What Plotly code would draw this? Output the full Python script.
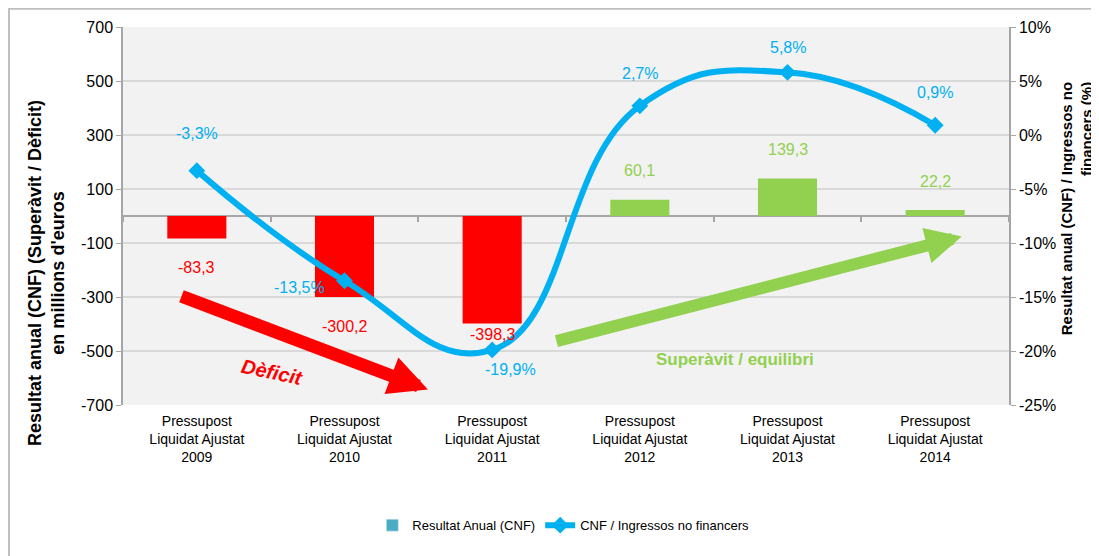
import plotly.graph_objects as go

years = ["2009", "2010", "2011", "2012", "2013", "2014"]
resultat = [-83.3, -300.2, -398.3, 60.1, 139.3, 22.2]
ratio = [-3.3, -13.5, -19.9, 2.7, 5.8, 0.9]
left_ticks = [-700, -500, -300, -100, 100, 300, 500, 700]
right_ticks = [-25, -20, -15, -10, -5, 0, 5, 10]

cat_labels = ["Pressupost<br>Liquidat Ajustat<br>" + y for y in years]
xs = list(range(len(years)))

FONT = "Liberation Sans, Arial, sans-serif"
RED = "#FF0000"
GREEN = "#92D050"
BLUE = "#00B0F0"

fig = go.Figure()

# bars (coloured by sign) + a legend-only entry in Excel's default colour
fig.add_trace(go.Bar(
    x=xs, y=resultat, width=0.4, showlegend=False,
    marker=dict(color=[RED if v < 0 else GREEN for v in resultat], line=dict(width=0)),
    hoverinfo="skip",
))
fig.add_trace(go.Bar(x=[None], y=[None], name="Resultat Anual (CNF)", marker_color="#4BACC6"))

fig.add_trace(go.Scatter(
    x=xs, y=ratio, yaxis="y2", name="CNF / Ingressos no financers",
    mode="lines+markers", line=dict(color=BLUE, width=6, shape="spline", smoothing=1.3),
    marker=dict(symbol="diamond", size=13, color=BLUE),
))

# dummy trace so the tick marks on the zero line get drawn
fig.add_trace(go.Scatter(x=[None], y=[None], xaxis="x2", showlegend=False))

ann = []
# bar value labels
for i, v in enumerate(resultat):
    shift = 29 if v > 0 else -29
    if i == 2:
        shift = -11
    ann.append(dict(x=i, y=v, xref="x", yref="y", text=f"{v:.1f}".replace(".", ","),
                    showarrow=False, yshift=shift,
                    font=dict(family=FONT, size=16, color=RED if v < 0 else GREEN)))

# line value labels
label_offsets = [(0, 37), (-45, -7), (18, -20), (0, 32), (0, 25), (0, 33)]
for i, v in enumerate(ratio):
    dx, dy = label_offsets[i]
    ann.append(dict(x=i, y=v, xref="x", yref="y2", text=f"{v:.1f}%".replace(".", ","),
                    showarrow=False, xshift=dx, yshift=dy,
                    font=dict(family=FONT, size=16, color=BLUE)))

# trend arrows
ann.append(dict(x=1.565, y=-643, ax=-0.114, ay=-295, xref="x", yref="y", axref="x", ayref="y",
                text="", showarrow=True, arrowhead=2, arrowsize=0.6, arrowwidth=13,
                arrowcolor=RED, standoff=0))
ann.append(dict(x=5.18, y=-76, ax=2.425, ay=-465, xref="x", yref="y", axref="x", ayref="y",
                text="", showarrow=True, arrowhead=2, arrowsize=0.6, arrowwidth=12,
                arrowcolor=GREEN, standoff=0))
ann.append(dict(x=0.509, y=-579, xref="x", yref="y", text="<b><i>Dèficit</i></b>", showarrow=False,
                textangle=12, font=dict(family=FONT, size=20, color=RED)))
ann.append(dict(x=3.644, y=-530, xref="x", yref="y", text="<b>Superàvit / equilibri</b>",
                showarrow=False, font=dict(family=FONT, size=17, color=GREEN)))

# axis titles
ann.append(dict(x=-0.087, y=0.349, xref="paper", yref="paper", xanchor="center", yanchor="middle",
                textangle=-90, showarrow=False,
                text="<b>Resultat anual (CNF) (Superàvit / Dèficit)<br>en millions d'euros</b>",
                font=dict(family=FONT, size=18, color="black")))
ann.append(dict(x=1.0765, y=0.52, xref="paper", yref="paper", xanchor="center", yanchor="middle",
                textangle=-90, showarrow=False, align="right",
                text="<b>Resultat anual (CNF) / Ingressos no<br>financers (%)</b>",
                font=dict(family=FONT, size=15, color="black")))

tickfont = dict(family=FONT, size=16, color="black")

fig.update_layout(
    # page body adds an 8px margin, so the figure is shrunk by that much
    width=1091, height=548,
    margin=dict(l=115, r=90, t=19, b=151),
    paper_bgcolor="white", plot_bgcolor="#F2F2F2",
    barmode="overlay",
    annotations=ann,
    xaxis=dict(range=[-0.5, 5.5], tickvals=xs, ticktext=cat_labels, showgrid=False,
               zeroline=False, showline=False, ticks="", ticklabelstandoff=6,
               tickfont=dict(family=FONT, size=14, color="black")),
    xaxis2=dict(overlaying="x", anchor="free", position=0.5, range=[-0.5, 5.5],
                tickvals=[i + 0.5 for i in range(-1, 6)], ticks="outside", ticklen=5,
                tickcolor="#A6A6A6", tickwidth=1.5, showticklabels=False, showgrid=False,
                zeroline=False, showline=False),
    yaxis=dict(range=[-700, 700], tickvals=left_ticks, ticktext=[str(v) for v in left_ticks],
               gridcolor="#D9D9D9", gridwidth=2,
               zeroline=True, zerolinecolor="#A6A6A6", zerolinewidth=1.5,
               showline=True, linecolor="#A6A6A6", linewidth=1.5,
               ticks="outside", ticklen=5, tickcolor="#A6A6A6", tickfont=tickfont),
    yaxis2=dict(range=[-25, 10], tickvals=right_ticks, ticktext=[f"{v}%" for v in right_ticks],
                overlaying="y", side="right", showgrid=False, zeroline=False,
                showline=True, linecolor="#A6A6A6", linewidth=1.5,
                ticks="outside", ticklen=5, tickcolor="#A6A6A6", tickfont=tickfont),
    legend=dict(orientation="h", x=0.497, y=-0.318, xanchor="center", yanchor="middle",
                font=dict(family=FONT, size=13, color="black"), bgcolor="rgba(0,0,0,0)"),
    shapes=[dict(type="rect", xref="paper", yref="paper", x0=-0.1287, x1=1.2, y0=-1.0, y1=1.0486,
                 line=dict(color="#BFBFBF", width=2), layer="below")],
)

fig.write_html("out.html")
